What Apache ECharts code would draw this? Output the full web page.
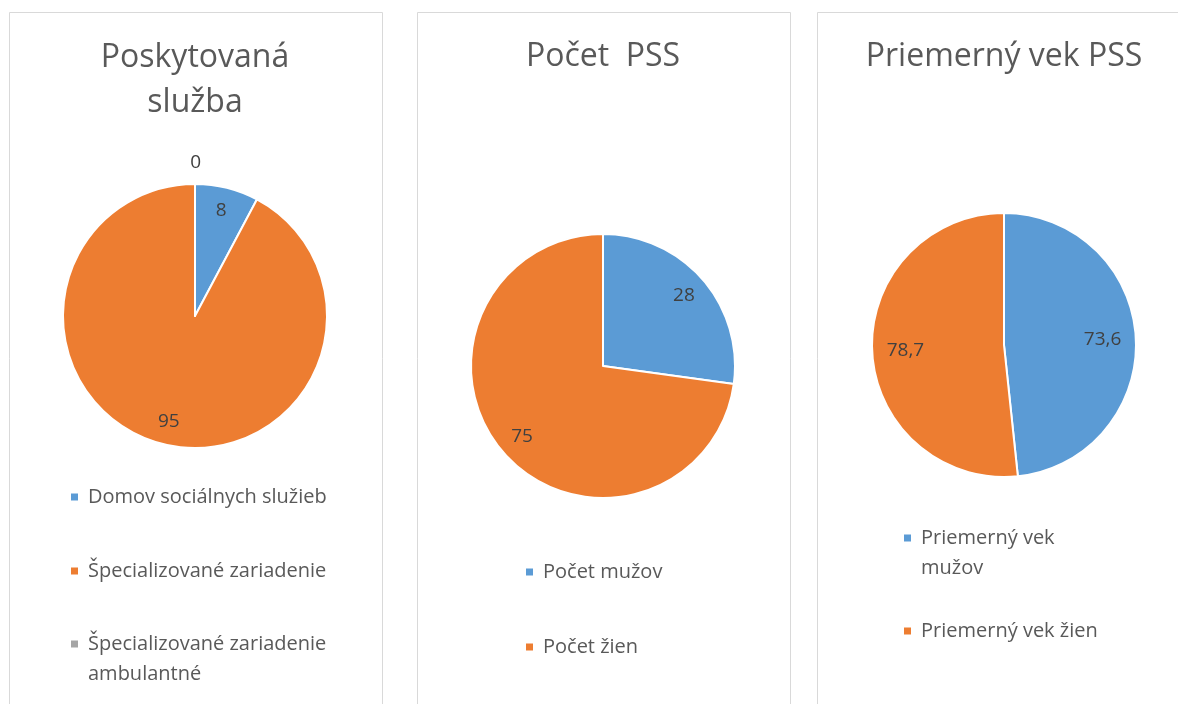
<!DOCTYPE html>
<html>
<head>
<meta charset="utf-8">
<script src="https://cdn.jsdelivr.net/npm/echarts@6/dist/echarts.min.js"></script>
<style>
html, body { margin: 0; padding: 0; background: #fff; }
#chart { width: 1178px; height: 704px; }
</style>
</head>
<body>
<div id="chart"></div>
<script>
var colors = ['#5B9BD5', '#ED7D31', '#A5A5A5'];

// Poskytovana sluzba
var sluzbaNames = ['Domov sociálnych služieb', 'Špecializované zariadenie', 'Špecializované zariadenie ambulantné'];
var sluzbaValues = [8, 95, 0];

// Pocet PSS
var pocetNames = ['Počet mužov', 'Počet žien'];
var pocetValues = [28, 75];

// Priemerny vek PSS
var vekNames = ['Priemerný vek mužov', 'Priemerný vek žien'];
var vekValues = [73.6, 78.7];

var titles = ['Poskytovaná\nslužba', 'Počet  PSS', 'Priemerný vek PSS'];

// how excel wrapped the long legend entries
// (leading empty line keeps the marker on the first text line)
var legendWrap = {
    'Špecializované zariadenie ambulantné': '\nŠpecializované zariadenie\nambulantné',
    'Priemerný vek mužov': '\nPriemerný vek\nmužov'
};

var font = 'Open Sans';
var R = 132;

var panels = [
    { names: sluzbaNames, values: sluzbaValues, title: titles[0], box: [9, 382], cx: 195, cy: 316, titleTop: 35, labelR0: 0.6,
      legendLeft: 69, legendY: [497, 571, 644] },
    { names: pocetNames, values: pocetValues, title: titles[1], box: [417, 790], cx: 603, cy: 366, titleTop: 34, labelR0: 0.58,
      legendLeft: 524, legendY: [572, 647] },
    { names: vekNames, values: vekValues, title: titles[2], box: [817, 1200], cx: 1004, cy: 345, titleTop: 34, labelR0: 0.45,
      legendLeft: 902, legendY: [538, 631] }
];

function fmtValue(p) {
    return String(p.value).replace('.', ',');
}

var title = [], legend = [], series = [], graphic = [];

panels.forEach(function (pn, k) {
    graphic.push({
        type: 'rect',
        shape: { x: pn.box[0] + 0.5, y: 12.5, width: pn.box[1] - pn.box[0], height: 800 },
        style: { fill: 'none', stroke: '#d9d9d9', lineWidth: 1 },
        silent: true
    });

    title.push({
        text: pn.title,
        left: pn.cx,
        top: pn.titleTop,
        textAlign: 'center',
        padding: 0,
        textStyle: { fontFamily: font, fontSize: 32, fontWeight: 'normal', color: '#595959', lineHeight: 45 }
    });

    var pieData = [], labelData = [];
    pn.names.forEach(function (n, i) {
        pieData.push({ name: n, value: pn.values[i], itemStyle: { color: colors[i] } });
        var item = { name: n, value: pn.values[i] };
        if (pn.values[i] === 0) {
            // no room inside, excel puts it above the pie
            item.label = { position: 'outside', distanceToLabelLine: -6 };
            item.labelLine = { show: false, length: 21, length2: 0 };
        }
        labelData.push(item);
    });

    series.push({
        type: 'pie',
        center: [pn.cx, pn.cy],
        radius: [0, R],
        startAngle: 90,
        clockwise: true,
        avoidLabelOverlap: false,
        label: { show: false },
        labelLine: { show: false },
        itemStyle: { borderColor: '#fff', borderWidth: 2 },
        emphasis: { disabled: true },
        data: pieData
    });

    // transparent ring only used to put labels near the rim
    series.push({
        type: 'pie',
        center: [pn.cx, pn.cy],
        radius: [R * pn.labelR0, R],
        startAngle: 90,
        clockwise: true,
        silent: true,
        avoidLabelOverlap: false,
        itemStyle: { color: 'rgba(0,0,0,0)', borderWidth: 0 },
        label: {
            show: true,
            position: 'inside',
            formatter: fmtValue,
            fontFamily: font,
            fontSize: 19,
            color: '#404040'
        },
        labelLine: { show: false },
        emphasis: { disabled: true },
        data: labelData
    });

    pn.names.forEach(function (n, i) {
        var half = legendWrap[n] ? 45 : 15;
        legend.push({
            data: [n],
            left: pn.legendLeft,
            top: pn.legendY[i] - half,
            orient: 'vertical',
            padding: 0,
            icon: 'rect',
            itemWidth: 9,
            itemHeight: 9,
            formatter: function (name) { return legendWrap[name] || name; },
            textStyle: {
                fontFamily: font,
                fontSize: 20,
                color: '#595959',
                lineHeight: 30,
                padding: [0, 0, 0, 4]
            }
        });
    });
});

var myChart = echarts.init(document.getElementById('chart'));
myChart.setOption({
    backgroundColor: '#fff',
    animation: false,
    title: title,
    legend: legend,
    graphic: graphic,
    series: series
});
</script>
</body>
</html>
